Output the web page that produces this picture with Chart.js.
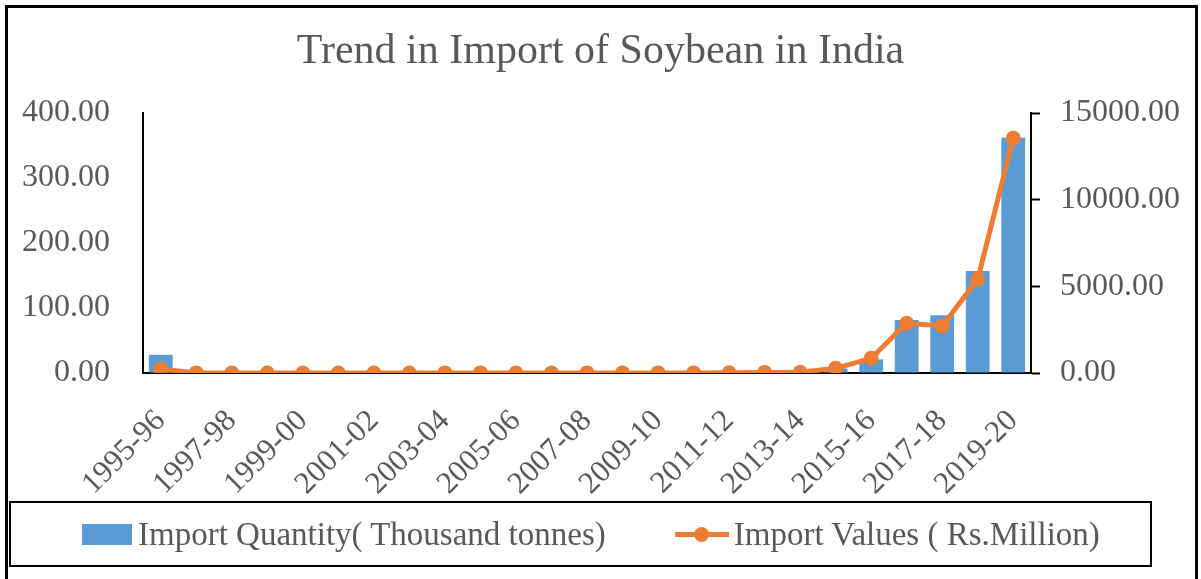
<!DOCTYPE html>
<html><head><meta charset="utf-8">
<script src="https://cdn.jsdelivr.net/npm/chart.js@4.4.1/dist/chart.umd.min.js"></script>
<style>
html,body{margin:0;padding:0;background:#fff;}
#wrap{position:relative;width:1201px;height:579px;overflow:hidden;background:#fff;}
#frame{position:absolute;left:5px;top:5px;width:1193px;height:640px;border:3px solid #000;box-sizing:border-box;pointer-events:none;}
#legend{position:absolute;left:9px;top:501px;width:1143px;height:66px;border:2px solid #000;box-sizing:border-box;
  font-family:'Liberation Serif',serif;font-size:33px;color:#595959;display:flex;align-items:center;padding-left:71px;white-space:nowrap;}
.sw{width:50px;height:21px;background:#5B9BD5;margin-right:6px;}
.ln{position:relative;width:54px;height:16px;margin-left:69px;margin-right:5px;}
.ln .l{position:absolute;left:0;top:5.5px;width:54px;height:5px;background:#ED7D31;}
.ln .c{position:absolute;left:19.5px;top:0.5px;width:15px;height:15px;border-radius:50%;background:#ED7D31;}
</style></head>
<body>
<div id="wrap">
<canvas id="c" width="1201" height="579"></canvas>
<div id="legend"><div class="sw"></div><span id="lg1"></span><div class="ln"><div class="l"></div><div class="c"></div></div><span id="lg2"></span></div>
<div id="frame"></div>
</div>
<script>
const titleText = 'Trend in Import of Soybean in India';
const categories = ['1995-96','1996-97','1997-98','1998-99','1999-00','2000-01','2001-02','2002-03','2003-04','2004-05','2005-06','2006-07','2007-08','2008-09','2009-10','2010-11','2011-12','2012-13','2013-14','2014-15','2015-16','2016-17','2017-18','2018-19','2019-20'];
const quantityLabel = 'Import Quantity( Thousand tonnes)';
const valueLabel = 'Import Values ( Rs.Million)';
const importQuantity = [28, 0.2, 0.1, 0.1, 0.1, 0.1, 0.1, 0.1, 0.2, 0.2, 0.1, 0.1, 0.2, 0.2, 0.1, 0.2, 0.5, 1, 1.5, 7, 21, 81.5, 89, 157, 362];
const importValues = [230, 5, 3, 3, 3, 3, 3, 4, 5, 5, 4, 4, 6, 6, 5, 6, 15, 35, 45, 271, 848, 2867, 2712, 5406, 13540];
const leftTicks = {min: 0, max: 400, step: 100};
const rightTicks = {min: 0, max: 15000, step: 5000};

document.getElementById('lg1').textContent = quantityLabel;
document.getElementById('lg2').textContent = valueLabel;

const FONT = "'Liberation Serif', serif";
const GREY = '#595959';

new Chart(document.getElementById('c'), {
  data: {
    labels: categories,
    datasets: [
      {type: 'line', label: valueLabel, data: importValues, yAxisID: 'y1', order: 0,
       borderColor: '#ED7D31', backgroundColor: '#ED7D31', borderWidth: 5, tension: 0,
       pointRadius: 7.5, pointBorderWidth: 0, pointBackgroundColor: '#ED7D31'},
      {type: 'bar', label: quantityLabel, data: importQuantity, yAxisID: 'y', order: 1,
       backgroundColor: '#5B9BD5', barPercentage: 0.67, categoryPercentage: 1}
    ]
  },
  options: {
    responsive: false, animation: false, devicePixelRatio: 1,
    layout: {padding: {left: 0, right: 0, top: 0, bottom: 77}},
    plugins: {
      legend: {display: false}, tooltip: {enabled: false},
      title: {display: true, text: titleText, color: GREY,
        font: {family: FONT, size: 42, weight: 'normal', lineHeight: 1.2},
        padding: {top: 27, bottom: 35.6}}
    },
    scales: {
      x: {
        grid: {display: true, drawOnChartArea: false, drawTicks: false},
        border: {display: true, color: '#000', width: 2},
        ticks: {autoSkip: false, minRotation: 45, maxRotation: 45, padding: 30, color: GREY,
          font: {family: FONT, size: 31},
          callback: function(v, i) { return i % 2 === 0 ? categories[i] : ''; }},
        afterFit: s => { s.height = 129; }
      },
      y: {
        position: 'left', min: leftTicks.min, max: leftTicks.max,
        grid: {display: true, drawOnChartArea: false, drawTicks: false},
        border: {display: true, color: '#000', width: 2},
        ticks: {stepSize: leftTicks.step, padding: 33, color: GREY, font: {family: FONT, size: 32},
          callback: v => Number(v).toFixed(2)},
        afterFit: s => { s.width = 143; }
      },
      y1: {
        position: 'right', min: rightTicks.min, max: rightTicks.max,
        grid: {display: true, drawOnChartArea: false, drawTicks: true, tickLength: 9, tickColor: '#000', tickWidth: 2, color: '#000'},
        border: {display: true, color: '#000', width: 2},
        ticks: {stepSize: rightTicks.step, padding: 20, color: GREY, font: {family: FONT, size: 32},
          callback: v => Number(v).toFixed(2)},
        afterFit: s => { s.width = 170; }
      }
    }
  }
});
</script>
</body></html>
